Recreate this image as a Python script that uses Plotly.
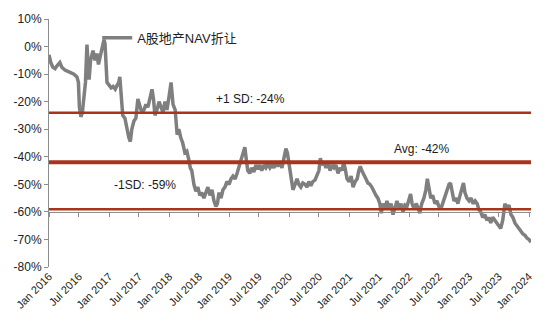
import plotly.graph_objects as go

dates = [
"2016-01-01","2016-01-13","2016-01-25","2016-02-07","2016-02-19","2016-03-07","2016-03-19","2016-04-07","2016-04-25","2016-05-13",
"2016-06-01","2016-06-19","2016-06-28","2016-07-04","2016-07-13","2016-07-22","2016-08-01","2016-08-10","2016-08-19","2016-08-25",
"2016-09-01","2016-09-10","2016-09-19","2016-09-25","2016-10-07","2016-10-19","2016-10-28","2016-11-07","2016-11-19","2016-12-01",
"2016-12-07","2016-12-13","2016-12-19","2017-01-01","2017-01-13","2017-01-25","2017-02-07","2017-02-19","2017-03-01","2017-03-07",
"2017-03-16","2017-03-25","2017-04-07","2017-04-19","2017-05-01","2017-05-10","2017-05-19","2017-06-01","2017-06-13","2017-06-25",
"2017-07-07","2017-07-19","2017-08-01","2017-08-13","2017-08-25","2017-09-07","2017-09-19","2017-09-28","2017-10-07","2017-10-19",
"2017-11-01","2017-11-13","2017-11-25","2017-12-07","2017-12-19","2018-01-01","2018-01-13","2018-01-25","2018-02-07","2018-02-19",
"2018-03-01","2018-03-13","2018-03-25","2018-04-07","2018-04-19","2018-05-01","2018-05-10","2018-05-19","2018-06-01","2018-06-13",
"2018-06-25","2018-07-07","2018-07-19","2018-08-01","2018-08-13","2018-08-25","2018-09-07","2018-09-19","2018-10-01","2018-10-13",
"2018-10-22","2018-11-01","2018-11-13","2018-11-25","2018-12-07","2018-12-19","2019-01-01","2019-01-13","2019-01-25","2019-02-07",
"2019-02-19","2019-03-01","2019-03-13","2019-03-25","2019-04-07","2019-04-16","2019-04-25","2019-05-07","2019-05-19","2019-06-01",
"2019-06-13","2019-06-25","2019-07-07","2019-07-19","2019-08-01","2019-08-13","2019-08-25","2019-09-07","2019-09-19","2019-10-01",
"2019-10-13","2019-10-25","2019-11-07","2019-11-19","2019-12-01","2019-12-13","2019-12-22","2020-01-01","2020-01-13","2020-01-25",
"2020-02-07","2020-02-19","2020-03-01","2020-03-13","2020-03-25","2020-04-07","2020-04-19","2020-05-01","2020-05-13","2020-05-25",
"2020-06-07","2020-06-19","2020-07-01","2020-07-10","2020-07-19","2020-08-01","2020-08-13","2020-08-25","2020-09-07","2020-09-19",
"2020-10-01","2020-10-13","2020-10-25","2020-11-07","2020-11-19","2020-11-28","2020-12-07","2020-12-19","2021-01-01","2021-01-13",
"2021-01-25","2021-02-07","2021-02-19","2021-03-01","2021-03-10","2021-03-19","2021-04-01","2021-04-13","2021-04-25","2021-05-07",
"2021-05-19","2021-06-01","2021-06-13","2021-06-25","2021-07-07","2021-07-16","2021-07-25","2021-08-07","2021-08-19","2021-09-01",
"2021-09-13","2021-09-25","2021-10-07","2021-10-19","2021-11-01","2021-11-13","2021-11-25","2021-12-07","2021-12-19","2022-01-01",
"2022-01-10","2022-01-19","2022-02-01","2022-02-13","2022-02-25","2022-03-07","2022-03-19","2022-04-01","2022-04-13","2022-04-22",
"2022-05-01","2022-05-13","2022-05-25","2022-06-07","2022-06-19","2022-07-01","2022-07-13","2022-07-25","2022-08-07","2022-08-19",
"2022-09-01","2022-09-10","2022-09-19","2022-10-01","2022-10-13","2022-10-25","2022-11-07","2022-11-19","2022-11-28","2022-12-07",
"2022-12-19","2023-01-01","2023-01-13","2023-01-25","2023-02-07","2023-02-19","2023-03-01","2023-03-13","2023-03-25","2023-04-07",
"2023-04-19","2023-05-01","2023-05-13","2023-05-25","2023-06-07","2023-06-19","2023-07-01","2023-07-13","2023-07-25","2023-08-07",
"2023-08-19","2023-09-01","2023-09-13","2023-09-25","2023-10-07","2023-10-19","2023-11-01","2023-11-13","2023-11-25","2023-12-07",
"2023-12-19","2024-01-01","2024-01-13",
]

nav_discount = [
-3,-6,-7.5,-8,-7,-5.8,-7.5,-8.5,-9,-9.5,
-10,-11,-13,-22,-25.5,-24,-16,-13,0.7,-6,
-12,-5,-3,-1.5,-5,-2.5,-6.5,-4,-1,2.5,
1,-7,-13,-14,-15,-14.5,-15.5,-14,-13,-11,
-18,-25,-26,-30,-33,-34.5,-30,-27,-26,-19,
-22,-24,-23,-21,-22,-18,-15.5,-19,-25,-23,
-20,-22,-24,-20,-23,-18,-13,-21,-23,-32,
-30,-33,-35,-38.5,-38,-41,-44,-45,-50,-52.5,
-51,-54,-53,-55,-53,-51,-54,-52,-56,-58,
-57,-53,-55,-52,-51,-49,-50,-48,-47,-48,
-46,-44,-42,-40,-36.5,-41,-45,-46,-44,-45.5,
-43,-44.5,-43,-45,-43,-44,-42.5,-44,-43,-44,
-42,-43.5,-42,-44,-41,-37,-38.5,-43,-47,-52,
-50,-48,-50,-51,-49.5,-50,-51,-49,-50.5,-49,
-48.5,-47,-45,-40.5,-43,-42,-44,-42,-45,-43,
-44,-43,-46,-44,-45,-42,-44,-48,-49,-47,
-51,-49,-48,-45,-43.5,-45,-47,-48,-49.5,-50,
-51,-53,-54,-55,-57,-60.5,-57,-59,-56,-59,
-57,-61,-58,-56,-59,-57,-60,-57.5,-58,-55,
-53.5,-57,-59,-57,-58.5,-60.5,-57,-55,-52,-48,
-51,-55,-54,-57,-56,-58,-59,-57,-55,-53,
-50,-49.5,-53,-56,-55,-57,-54,-51,-49.5,-53,
-55,-56,-55,-57,-56,-57,-59,-60,-62,-61,
-63,-62,-64,-62,-63,-64,-65,-66,-63,-57,
-59,-57.5,-61,-62,-64,-65,-66,-67,-68,-68.5,
-69.5,-70,-71,
]

series_name = "A股地产NAV折让"
band_values = [-24, -42, -59]
band_labels = ["+1 SD: -24%", "Avg: -42%", "-1SD: -59%"]
y_ticks = [10, 0, -10, -20, -30, -40, -50, -60, -70, -80]
y_tick_labels = ["10%", "0%", "-10%", "-20%", "-30%", "-40%", "-50%", "-60%", "-70%", "-80%"]

FONT = "Liberation Sans, Arial, Noto Sans CJK SC, sans-serif"
RED = "#A8341C"

fig = go.Figure()
fig.add_trace(go.Scatter(x=dates, y=nav_discount, mode="lines", name=series_name,
                         line=dict(color="#7f7f7f", width=3.5), showlegend=True))
# invisible trace to drive the secondary x axis (axis line at -60%)
fig.add_trace(go.Scatter(x=dates, y=nav_discount, mode="lines", xaxis="x2",
                         line=dict(color="rgba(0,0,0,0)", width=0), showlegend=False, hoverinfo="skip"))

x_range = [dates[0], dates[-1]]

# reference lines
widths = [2.5, 4, 2.5]
for v, w in zip(band_values, widths):
    fig.add_shape(type="line", xref="x", yref="y", x0=dates[0], x1=dates[-1], y0=v, y1=v,
                  line=dict(color=RED, width=w), layer="above")

ann_pos = [("2019-05-13", -19.2), ("2022-03-19", -37.3), ("2017-08-07", -50.3)]
for (ax_, ay_), txt in zip(ann_pos, band_labels):
    fig.add_annotation(x=ax_, y=ay_, xref="x", yref="y", text=txt, showarrow=False,
                       font=dict(family=FONT, size=12, color="#1a1a1a"))

fig.update_layout(
    width=550, height=326,
    margin=dict(l=49, r=19, t=17, b=59),
    paper_bgcolor="white", plot_bgcolor="white",
    font=dict(family=FONT, size=12, color="#222"),
    showlegend=True,
    legend=dict(x=0.1, y=0.985, xanchor="left", yanchor="top", bgcolor="rgba(0,0,0,0)",
                font=dict(family=FONT, size=13, color="#222"), itemwidth=30,
                tracegroupgap=0),
    xaxis=dict(type="date", range=x_range, tickmode="linear", tick0="2016-01-01", dtick="M6",
               tickformat="%b %Y", tickangle=-45, showgrid=False, zeroline=False,
               showline=False, ticks="", tickfont=dict(family=FONT, size=11, color="#222")),
    xaxis2=dict(type="date", range=x_range, overlaying="x", anchor="free", position=20/90,
                side="bottom", tickmode="linear", tick0="2016-01-01", dtick="M6",
                showticklabels=False, ticks="outside", ticklen=4, tickcolor="#8c8c8c",
                showline=True, linecolor="#8c8c8c", linewidth=1, showgrid=False, zeroline=False),
    yaxis=dict(range=[-80, 10], tickmode="array", tickvals=y_ticks, ticktext=y_tick_labels,
               showgrid=False, zeroline=False, showline=True, linecolor="#8c8c8c", linewidth=1,
               ticks="outside", ticklen=4, tickcolor="#8c8c8c",
               tickfont=dict(family=FONT, size=12, color="#222")),
)

fig.write_html("out.html")
